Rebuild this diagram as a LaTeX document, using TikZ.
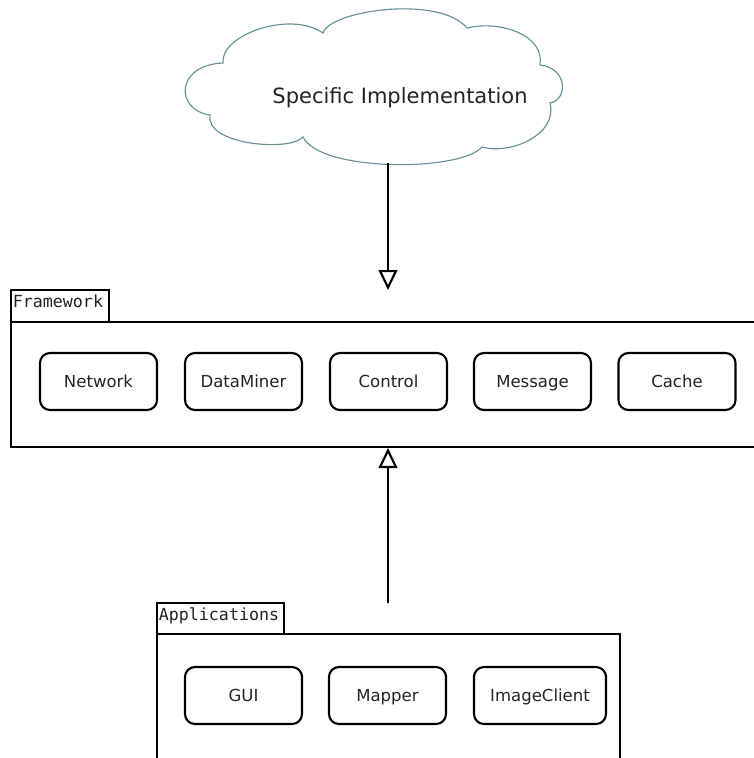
\documentclass[tikz,border=0pt]{standalone}
\usepackage{fontspec}
\setmainfont{DejaVu Sans}
\setmonofont{DejaVu Sans Mono}
\usetikzlibrary{arrows.meta}
\definecolor{cloudline}{RGB}{100,145,150}
\definecolor{inktext}{RGB}{35,35,35}
\begin{document}
\begin{tikzpicture}[x=0.75pt,y=-0.75pt,
  cloudshape/.style={draw=cloudline, line width=0.85pt, fill=white},
  cloudtext/.style={font=\fontsize{15.75pt}{18pt}\selectfont, text=inktext, inner sep=0pt},
  pkgbody/.style={draw, line width=1.6pt, inner sep=0pt, outer sep=0pt},
  pkgtab/.style={draw, line width=1.6pt, inner sep=0pt, outer sep=0pt},
  pkglabel/.style={font=\ttfamily\fontsize{12.5pt}{14pt}\selectfont, text=inktext, inner sep=0pt},
  comp/.style={draw, line width=1.6pt, rounded corners=7.5pt, minimum width=87.75pt,
    minimum height=42.75pt, inner sep=0pt, text=inktext,
    text height=9pt, text depth=0pt,
    font=\fontsize{12.4pt}{14pt}\selectfont},
  gen/.style={line width=1.6pt, -{Triangle[open, length=15pt, width=14pt]}}
]
\useasboundingbox (0,0) rectangle (754,758);
\clip (0,0) rectangle (754,758);

% cloud for the specific implementation
\draw[cloudshape] (323,33) .. controls (330,10) and (440,-5) .. (467,28)
  .. controls (500,20) and (545,35) .. (540,65)
  .. controls (568,68) and (568,100) .. (550,103)
  .. controls (558,135) and (510,155) .. (482,147)
  .. controls (460,172) and (320,172) .. (303,137)
  .. controls (290,152) and (205,145) .. (210,115)
  .. controls (175,110) and (175,65) .. (223,63)
  .. controls (220,35) and (290,10) .. (323,33) -- cycle;
\node[cloudtext, anchor=base] (spec) at (400,103) {Specific Implementation};
\coordinate (cloudfoot) at (388,163);

% Framework package
\node[pkgbody, anchor=north west, minimum width=569.25pt, minimum height=93.75pt] (fw) at (11,322) {};
\node[pkgtab, anchor=south west, minimum width=73.5pt, minimum height=24pt] (fwtab) at (fw.north west) {};
\node[pkglabel, anchor=base west] (fwlabel) at (12.5,307) {Framework};
\coordinate (fwtip) at (388,290);
\coordinate (fwfoot) at (388,448);

\node[comp] (network) at (98.5,381.5) {Network};
\node[comp] (dataminer) at (243.5,381.5) {DataMiner};
\node[comp] (control) at (388.5,381.5) {Control};
\node[comp] (message) at (532.5,381.5) {Message};
\node[comp] (cache) at (677,381.5) {Cache};

% Applications package
\node[pkgbody, anchor=north west, minimum width=347.25pt, minimum height=150pt] (apps) at (157,634) {};
\node[pkgtab, anchor=south west, minimum width=95.25pt, minimum height=23.25pt] (appstab) at (apps.north west) {};
\node[pkglabel, anchor=base west] (appslabel) at (158.5,620) {Applications};
\coordinate (appstop) at (388,603);

\node[comp] (gui) at (243.5,695.5) {GUI};
\node[comp] (mapper) at (387.5,695.5) {Mapper};
\node[comp, minimum width=99pt] (imageclient) at (540,695.5) {ImageClient};

% generalisation arrows
\draw[gen] (cloudfoot) -- (fwtip);
\draw[gen] (appstop) -- (fwfoot);
\end{tikzpicture}
\end{document}
